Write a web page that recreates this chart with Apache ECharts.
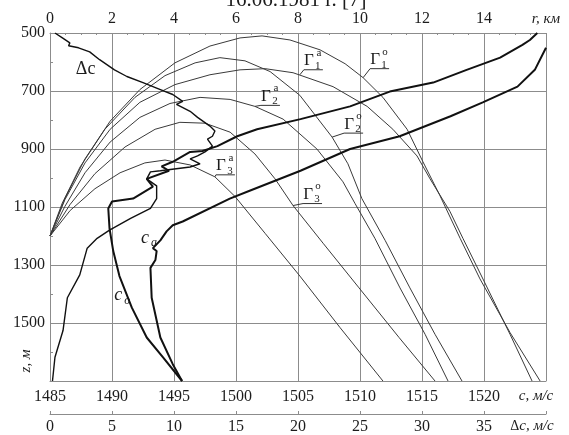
<!DOCTYPE html>
<html><head><meta charset="utf-8">
<script src="https://cdn.jsdelivr.net/npm/echarts@6/dist/echarts.min.js"></script>
<style>html,body{margin:0;padding:0;background:#fff;overflow:hidden;width:569px;height:435px}#c{width:569px;height:435px;overflow:hidden}</style>
</head><body><div id="c"></div>
<script>
// ---- axes ----
const rRange = [0, 16];          // r, км (top axis)
const zRange = [500, 1700];      // z, м (left axis, downward)
const cRange = [1485, 1525];     // c, м/с (bottom axis)
const dcRange = [0, 40];         // Δc, м/с (second bottom axis)

// ---- sound speed profiles [c (м/с), z (м)] ----
const cO = [[1524.3,500],[1523.7,524],[1523.1,541],[1521.3,585],[1518.6,627],[1515.9,671],[1512.4,702],[1509.2,753],[1505.2,797],[1501.7,832],[1500.1,856],[1498.5,890],[1497.3,907],[1496.3,910],[1494.9,944],[1494.0,960],[1494.6,975],[1492.8,1003],[1493.3,1030],[1491.7,1071],[1490.0,1081],[1489.7,1105],[1489.8,1174],[1490.1,1252],[1490.6,1338],[1491.6,1447],[1492.8,1550],[1494.1,1618],[1495.65,1700]];
const cA = [[1525.0,551],[1524.1,627],[1522.7,685],[1519.9,739],[1517.3,787],[1513.2,856],[1509.2,900],[1505.2,975],[1501.1,1044],[1499.5,1071],[1495.7,1150],[1494.9,1163],[1494.4,1184],[1493.9,1215],[1493.3,1242],[1493.6,1252],[1493.5,1283],[1493.1,1310],[1493.2,1413],[1493.9,1550],[1494.9,1642],[1495.65,1700]];
// ---- difference profile [Δc (м/с), z (м)] ----
const dC = [[0.4,500],[1.0,517],[1.6,534],[1.5,544],[2.3,551],[3.2,565],[4.0,592],[5.2,627],[6.2,650],[7.5,671],[8.9,695],[9.9,712],[10.7,736],[10.2,746],[11.3,770],[11.9,791],[12.9,821],[13.3,838],[13.1,856],[12.7,866],[13.1,890],[12.5,910],[11.9,924],[11.3,934],[12.1,951],[11.3,962],[8.9,975],[8.1,979],[7.8,1003],[8.6,1027],[8.6,1061],[8.6,1071],[8.1,1105],[6.5,1139],[4.8,1180],[3.8,1208],[3.0,1242],[2.4,1334],[1.4,1413],[1.05,1526],[0.4,1618],[0.2,1700]];

// ---- rays [r (км), z (м)] ----
const ray1o = [[0,1200],[0.48,1071],[1.13,934],[1.94,804],[2.90,695],[4.03,603],[5.16,545],[6.13,517],[6.84,510],[7.74,524],[8.71,558],[9.52,606],[10.10,654],[10.74,722],[11.52,832],[12.03,944],[12.58,1061],[13.23,1208],[13.87,1348],[14.84,1533],[15.81,1700]];
const ray1a = [[0,1200],[0.48,1075],[1.13,948],[1.94,832],[2.90,739],[4.03,678],[5.16,644],[6.13,627],[6.94,623],[7.84,637],[9.13,685],[10.23,753],[11.06,832],[11.84,924],[12.26,1003],[12.90,1115],[13.32,1208],[14.03,1362],[14.84,1539],[15.55,1700]];
const ray2o = [[0,1200],[0.39,1088],[0.97,962],[1.77,832],[2.74,722],[3.71,647],[4.68,603],[5.48,585],[6.29,596],[7.10,633],[8.06,715],[9.10,859],[9.61,951],[10.06,1071],[10.81,1215],[11.61,1379],[12.42,1539],[13.29,1700]];
const ray2a = [[0,1200],[0.48,1098],[1.13,982],[1.94,876],[2.90,791],[3.87,743],[4.84,722],[5.81,729],[6.61,753],[7.52,797],[8.61,900],[9.45,1013],[9.84,1088],[10.48,1208],[11.29,1379],[12.10,1539],[12.84,1700]];
const ray3o = [[0,1200],[0.65,1091],[1.45,985],[2.42,893],[3.39,832],[4.19,808],[5.0,811],[5.81,842],[6.61,917],[7.26,1003],[7.84,1095],[8.81,1225],[9.97,1379],[11.26,1550],[12.42,1700]];
const ray3a = [[0,1200],[0.65,1112],[1.45,1037],[2.26,982],[3.06,948],[3.71,938],[4.52,955],[5.32,996],[5.97,1064],[6.94,1191],[8.06,1338],[9.35,1515],[10.74,1700]];

// ---- ray labels: index, superscript, anchor on ray [r,z] ----
const rayLabels = [
  {n:'1', s:'a', at:[8.06,644]},
  {n:'1', s:'o', at:[10.10,654]},
  {n:'2', s:'a', at:[6.61,753]},
  {n:'2', s:'o', at:[9.10,859]},
  {n:'3', s:'o', at:[7.84,1095]},
  {n:'3', s:'a', at:[5.32,996]}
];
const labelOffsets = [[9,-14],[12,-18],[11,-10],[17,-13],[15,-11],[6,-11]];

const FONT = "'Liberation Serif','DejaVu Serif',serif";
const TXT = '#1c1c1c';
const GRID = '#8c8c8c';

const chart = echarts.init(document.getElementById('c'), null, {width:569, height:435});
const rayStyle = {color:'#3a3a3a', width:1};
function raySeries(d){return {type:'line', xAxisIndex:0, data:d, showSymbol:false, symbol:'none', lineStyle:rayStyle, silent:true, z:2};}

chart.setOption({
  animation:false,
  grid:{left:50, right:23, top:33, bottom:51, containLabel:false},
  xAxis:[
    {type:'value', position:'top', min:rRange[0], max:rRange[1], interval:2,
     axisLine:{show:true, onZero:false, lineStyle:{color:GRID, width:1}},
     axisTick:{show:true, inside:true, length:3, lineStyle:{color:GRID}},
     minorTick:{show:true, splitNumber:4, length:2, lineStyle:{color:GRID}},
     splitLine:{show:true, lineStyle:{color:GRID, width:1}},
     axisLabel:{margin:6, color:TXT, fontFamily:FONT, fontSize:16,
       formatter:v=> v===16 ? '{it|r, км}' : String(v),
       rich:{it:{fontStyle:'italic', fontFamily:FONT, fontSize:15, color:TXT}}}},
    {type:'value', position:'bottom', min:cRange[0], max:cRange[1], interval:5,
     axisLine:{show:true, onZero:false, lineStyle:{color:GRID, width:1}},
     axisTick:{show:false}, splitLine:{show:false},
     axisLabel:{margin:8, color:TXT, fontFamily:FONT, fontSize:16,
       formatter:v=> v===1525 ? '{it|c, м/с}' : String(v),
       rich:{it:{fontStyle:'italic', fontFamily:FONT, fontSize:15, color:TXT, padding:[0,20,0,0]}}}},
    {type:'value', position:'bottom', offset:33, min:dcRange[0], max:dcRange[1], interval:5,
     axisLine:{show:true, onZero:false, lineStyle:{color:GRID, width:1}},
     axisTick:{show:true, inside:true, length:3, lineStyle:{color:GRID}}, splitLine:{show:false},
     axisLabel:{margin:5, color:TXT, fontFamily:FONT, fontSize:16,
       formatter:v=> v===40 ? '{d|Δ}{it|c, м/с}' : String(v),
       rich:{d:{fontFamily:FONT, fontSize:14, color:TXT}, it:{fontStyle:'italic', fontFamily:FONT, fontSize:15, color:TXT, padding:[0,28,0,0]}}}}
  ],
  yAxis:[{type:'value', inverse:true, min:zRange[0], max:zRange[1], interval:200,
     axisLine:{show:true, onZero:false, lineStyle:{color:GRID, width:1}},
     axisTick:{show:true, inside:true, length:4, lineStyle:{color:GRID}},
     minorTick:{show:true, splitNumber:2, length:3, lineStyle:{color:GRID}},
     splitLine:{show:true, lineStyle:{color:GRID, width:1}},
     axisLabel:{margin:5, color:TXT, fontFamily:FONT, fontSize:16,
       formatter:v=> v===1700 ? '' : String(v)}}],
  series:[
    raySeries(ray1o), raySeries(ray1a), raySeries(ray2o), raySeries(ray2a), raySeries(ray3o), raySeries(ray3a),
    {type:'line', xAxisIndex:2, data:dC, symbol:'none', lineStyle:{color:'#111', width:1.4}, silent:true, z:3},
    {type:'line', xAxisIndex:1, data:cO, symbol:'none', lineStyle:{color:'#111', width:2}, silent:true, z:4},
    {type:'line', xAxisIndex:1, data:cA, symbol:'none', lineStyle:{color:'#111', width:2}, silent:true, z:4}
  ]
});

// ---- annotations (positioned from data coordinates) ----
const els = [];
function px(r,z){return chart.convertToPixel({xAxisIndex:0,yAxisIndex:0},[r,z]);}
rayLabels.forEach((L,i)=>{
  const p = px(L.at[0], L.at[1]);
  const o = labelOffsets[i];
  const gx = p[0]+o[0], gy = p[1]+o[1];
  els.push({type:'polyline', shape:{points:[[p[0],p[1]],[gx-5,gy+9],[gx+14,gy+9]]}, style:{stroke:'#333', lineWidth:1, fill:null}, silent:true});
  els.push({type:'text', x:gx, y:gy, style:{text:'Г', fontFamily:FONT, fontSize:17, fill:TXT, align:'center', verticalAlign:'middle'}});
  els.push({type:'text', x:gx+9, y:gy+5, style:{text:L.n, fontFamily:FONT, fontSize:11, fill:TXT, align:'center', verticalAlign:'middle'}});
  els.push({type:'text', x:gx+10, y:gy-8, style:{text:L.s, fontFamily:FONT, fontSize:11, fill:TXT, align:'center', verticalAlign:'middle'}});
});
function cpx(c,z){return chart.convertToPixel({xAxisIndex:1,yAxisIndex:0},[c,z]);}
const pa = cpx(1492.66,1208), po = cpx(1490.5,1406), pd = px(1.15,625);
els.push({type:'text', x:pa[0], y:pa[1], style:{text:'c', fontFamily:FONT, fontStyle:'italic', fontSize:18, fill:TXT, align:'center', verticalAlign:'middle'}});
els.push({type:'text', x:pa[0]+9, y:pa[1]+5, style:{text:'a', fontFamily:FONT, fontStyle:'italic', fontSize:12, fill:TXT, align:'center', verticalAlign:'middle'}});
els.push({type:'text', x:po[0], y:po[1], style:{text:'c', fontFamily:FONT, fontStyle:'italic', fontSize:18, fill:TXT, align:'center', verticalAlign:'middle'}});
els.push({type:'text', x:po[0]+9, y:po[1]+5, style:{text:'o', fontFamily:FONT, fontStyle:'italic', fontSize:12, fill:TXT, align:'center', verticalAlign:'middle'}});
els.push({type:'text', x:pd[0], y:pd[1], style:{text:'Δc', fontFamily:FONT, fontSize:18, fill:TXT, align:'center', verticalAlign:'middle'}});
const zb = px(0,1700);
els.push({type:'text', x:zb[0]-24, y:zb[1]-20, rotation:Math.PI/2, style:{text:'z, м', fontFamily:FONT, fontStyle:'italic', fontSize:15, fill:TXT, align:'center', verticalAlign:'middle'}});
els.push({type:'text', x:296, y:0, style:{text:'16.06.1981 г. [7]', fontFamily:FONT, fontSize:21, fill:TXT, align:'center', verticalAlign:'middle'}});
chart.setOption({graphic:{elements:els}});
</script></body></html>
